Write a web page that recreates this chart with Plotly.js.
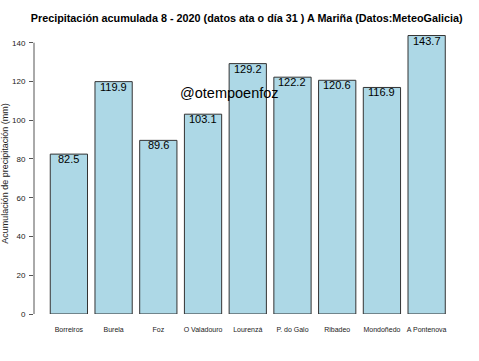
<!DOCTYPE html>
<html>
<head>
<meta charset="utf-8">
<script src="https://cdn.plot.ly/plotly-3.0.1.min.js"></script>
<style>html,body{margin:0;padding:0;background:#fff;}#chart{width:479px;height:361px;}</style>
</head>
<body>
<div id="chart"></div>
<script>
const stations = ["Borreiros","Burela","Foz","O Valadouro","Lourenzá","P. do Galo","Ribadeo","Mondoñedo","A Pontenova"];
const rainfall = [82.5, 119.9, 89.6, 103.1, 129.2, 122.2, 120.6, 116.9, 143.7];
const yTicks = [0, 20, 40, 60, 80, 100, 120, 140];
const chartTitle = "Precipitación acumulada 8 - 2020 (datos ata o día 31 ) A Mariña (Datos:MeteoGalicia)";
const yTitle = "Acumulación de precipitación (mm)";
const watermark = "@otempoenfoz";

const font = "Liberation Sans, Arial, sans-serif";

const trace = {
  type: "bar",
  x: stations,
  y: rainfall,
  marker: {color: "#ADD8E6", line: {color: "#333333", width: 1}},
  hoverinfo: "none"
};

const valueLabels = stations.map((s, i) => ({
  text: rainfall[i].toFixed(1), xref: "x", yref: "y", x: s, y: rainfall[i],
  showarrow: false, xanchor: "center", yanchor: "top", yshift: 2, borderpad: 0,
  font: {family: font, size: 11, color: "#000"}
}));

const layout = {
  width: 479, height: 361,
  margin: {l: 34, r: 30, t: 32.6, b: 47.3},
  paper_bgcolor: "#fff", plot_bgcolor: "#fff",
  bargap: 0.167,
  showlegend: false,
  font: {family: font, color: "#000"},
  title: {text: "<b>" + chartTitle + "</b>", font: {family: font, size: 10.8, color: "#000"}, x: 0.515, xanchor: "center", y: 0.95, yanchor: "middle"},
  xaxis: {
    type: "category",
    range: [-0.78, 8.5],
    showline: false, showgrid: false, zeroline: false, ticks: "",
    tickfont: {family: font, size: 7, color: "#222"},
    ticklabelstandoff: 10
  },
  yaxis: {
    range: [0, 145],
    tickvals: yTicks,
    ticktext: yTicks.map(String),
    ticks: "outside", ticklen: 4, tickcolor: "#555", tickwidth: 1,
    showline: false, showgrid: false, zeroline: false,
    tickfont: {family: font, size: 8, color: "#222"},
    ticklabelstandoff: 2,
    title: {text: yTitle, font: {family: font, size: 9, color: "#222"}, standoff: 8}
  },
  shapes: [{type: "line", xref: "paper", yref: "y", x0: 0, x1: 0, y0: yTicks[0], y1: yTicks[yTicks.length - 1], line: {color: "#555", width: 1}}],
  annotations: valueLabels.concat([{text: watermark, xref: "x", yref: "y", x: 3.6, y: 114, showarrow: false, font: {family: font, size: 14.5, color: "#000"}, xanchor: "center", yanchor: "middle"}])
};

Plotly.newPlot("chart", [trace], layout, {displayModeBar: false, staticPlot: true});
</script>
</body>
</html>
